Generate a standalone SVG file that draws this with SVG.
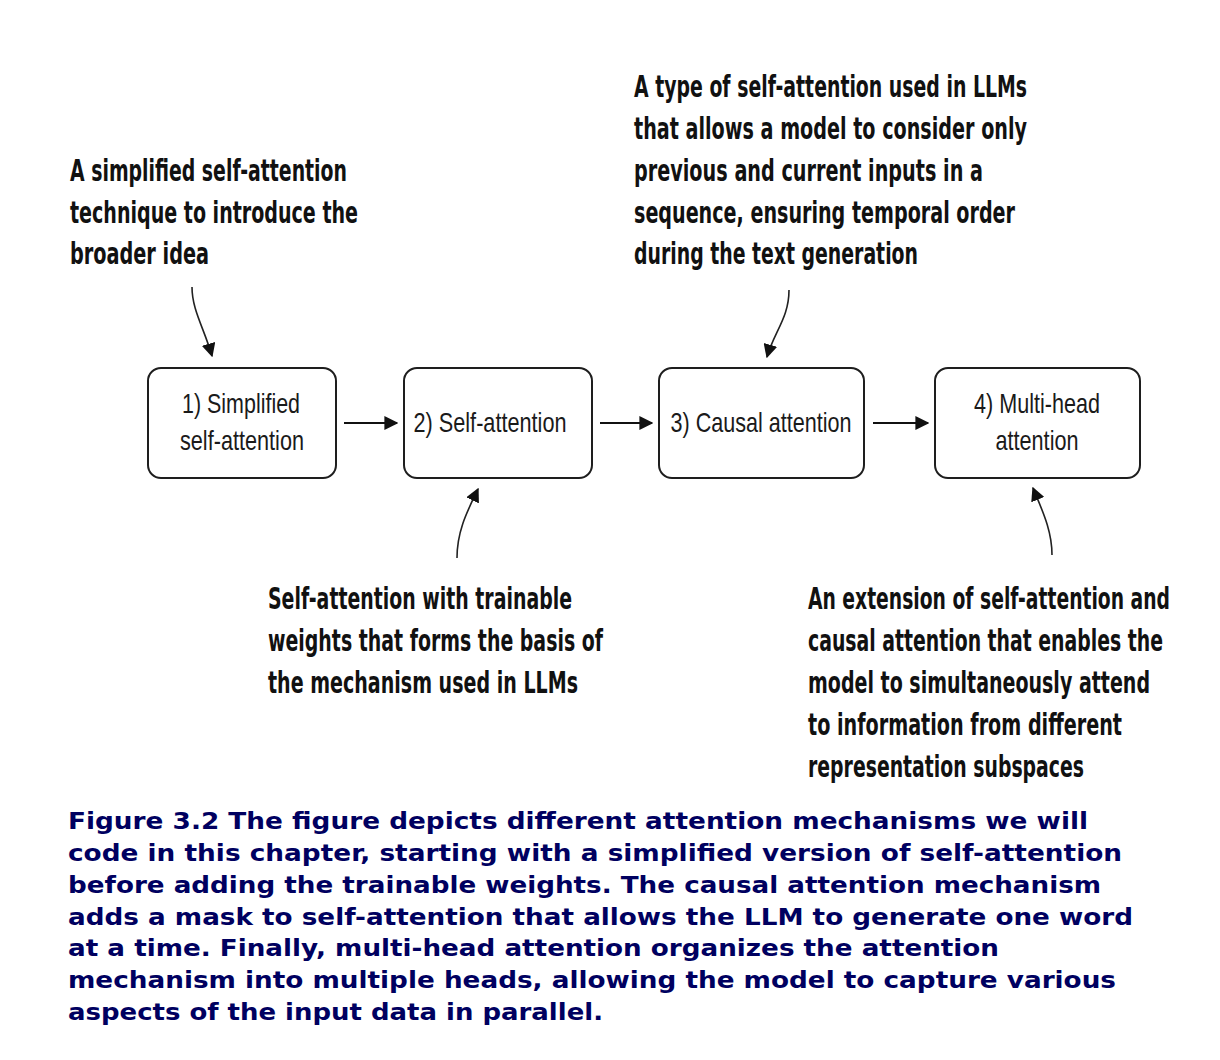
<svg xmlns="http://www.w3.org/2000/svg" width="1220" height="1060" viewBox="0 0 1220 1060">
<style>
.bg{fill:#ffffff}
.box{fill:#ffffff;stroke:#1e1e1e;stroke-width:2}
.bt{font-family:"Liberation Sans",Arial,sans-serif;font-size:28px;fill:#1a1a1a}
.an{font-family:"DejaVu Sans Condensed","DejaVu Sans",sans-serif;font-stretch:condensed;font-weight:bold;font-size:31px;fill:#111111}
.ae{text-anchor:end}
.cap{font-family:"DejaVu Sans",Verdana,sans-serif;font-weight:bold;font-size:23.5px;fill:#000060}
.conn{fill:none;stroke:#111111;stroke-width:2}
.curve{fill:none;stroke:#222222;stroke-width:1.6}
</style>
<defs>
<marker id="ah" viewBox="0 0 10 10" refX="9" refY="5" markerWidth="14" markerHeight="14" markerUnits="userSpaceOnUse" orient="auto">
<path d="M0,0 L10,5 L0,10 Z" fill="#111111"/>
</marker>
</defs>
<rect class="bg" x="0" y="0" width="1220" height="1060"/>

<g id="node1">
<rect class="box" x="148" y="368" width="188" height="110" rx="13"/>
<text class="bt" x="241" y="413" text-anchor="middle" textLength="118" lengthAdjust="spacingAndGlyphs">1) Simplified</text>
<text class="bt" x="242" y="450" text-anchor="middle" textLength="124" lengthAdjust="spacingAndGlyphs">self-attention</text>
</g>
<g id="node2">
<rect class="box" x="404" y="368" width="188" height="110" rx="13"/>
<text class="bt" x="490" y="432" text-anchor="middle" textLength="153" lengthAdjust="spacingAndGlyphs">2) Self-attention</text>
</g>
<g id="node3">
<rect class="box" x="659" y="368" width="205" height="110" rx="13"/>
<text class="bt" x="761" y="432" text-anchor="middle" textLength="181" lengthAdjust="spacingAndGlyphs">3) Causal attention</text>
</g>
<g id="node4">
<rect class="box" x="935" y="368" width="205" height="110" rx="13"/>
<text class="bt" x="1037" y="413" text-anchor="middle" textLength="126" lengthAdjust="spacingAndGlyphs">4) Multi-head</text>
<text class="bt" x="1037" y="450" text-anchor="middle" textLength="83" lengthAdjust="spacingAndGlyphs">attention</text>
</g>

<g id="note-simplified">
<text class="an" x="70" y="181" textLength="277" lengthAdjust="spacingAndGlyphs">A simplified self-attention</text>
<text class="an" x="70" y="223" textLength="288" lengthAdjust="spacingAndGlyphs">technique to introduce the</text>
<text class="an" x="70" y="264" textLength="139" lengthAdjust="spacingAndGlyphs">broader idea</text>
</g>
<g id="note-causal">
<text class="an" x="634" y="97" textLength="393" lengthAdjust="spacingAndGlyphs">A type of self-attention used in LLMs</text>
<text class="an" x="634" y="139" textLength="393" lengthAdjust="spacingAndGlyphs">that allows a model to consider only</text>
<text class="an" x="634" y="181" textLength="349" lengthAdjust="spacingAndGlyphs">previous and current inputs in a</text>
<text class="an" x="634" y="223" textLength="381" lengthAdjust="spacingAndGlyphs">sequence, ensuring temporal order</text>
<text class="an" x="634" y="264" textLength="284" lengthAdjust="spacingAndGlyphs">during the text generation</text>
</g>
<g id="note-self">
<text class="an" x="268" y="609" textLength="304" lengthAdjust="spacingAndGlyphs">Self-attention with trainable</text>
<text class="an" x="268" y="651" textLength="335" lengthAdjust="spacingAndGlyphs">weights that forms the basis of</text>
<text class="an" x="268" y="693" textLength="310" lengthAdjust="spacingAndGlyphs">the mechanism used in LLMs</text>
</g>
<g id="note-multihead">
<text class="an ae" x="1170" y="609" textLength="362" lengthAdjust="spacingAndGlyphs">An extension of self-attention and</text>
<text class="an ae" x="1163" y="651" textLength="355" lengthAdjust="spacingAndGlyphs">causal attention that enables the</text>
<text class="an ae" x="1150" y="693" textLength="342" lengthAdjust="spacingAndGlyphs">model to simultaneously attend</text>
<text class="an ae" x="1122" y="735" textLength="314" lengthAdjust="spacingAndGlyphs">to information from different</text>
<text class="an ae" x="1084" y="777" textLength="276" lengthAdjust="spacingAndGlyphs">representation subspaces</text>
</g>

<g id="connectors">
<line class="conn" x1="344" y1="423" x2="397" y2="423" marker-end="url(#ah)"/>
<line class="conn" x1="600" y1="423" x2="652" y2="423" marker-end="url(#ah)"/>
<line class="conn" x1="873" y1="423" x2="928" y2="423" marker-end="url(#ah)"/>
<path class="curve" d="M192,287 C192,310 204,328 212,356" marker-end="url(#ah)"/>
<path class="curve" d="M789,290 C789,318 774,332 767,357" marker-end="url(#ah)"/>
<path class="curve" d="M457,558 C457,530 468,510 478,489" marker-end="url(#ah)"/>
<path class="curve" d="M1052,555 C1052,530 1042,510 1033,488" marker-end="url(#ah)"/>
</g>

<g id="caption">
<text class="cap" x="68" y="829" textLength="1020" lengthAdjust="spacingAndGlyphs">Figure 3.2 The figure depicts different attention mechanisms we will</text>
<text class="cap" x="68" y="861" textLength="1054" lengthAdjust="spacingAndGlyphs">code in this chapter, starting with a simplified version of self-attention</text>
<text class="cap" x="68" y="893" textLength="1033" lengthAdjust="spacingAndGlyphs">before adding the trainable weights. The causal attention mechanism</text>
<text class="cap" x="68" y="925" textLength="1065" lengthAdjust="spacingAndGlyphs">adds a mask to self-attention that allows the LLM to generate one word</text>
<text class="cap" x="68" y="956" textLength="931" lengthAdjust="spacingAndGlyphs">at a time. Finally, multi-head attention organizes the attention</text>
<text class="cap" x="68" y="988" textLength="1048" lengthAdjust="spacingAndGlyphs">mechanism into multiple heads, allowing the model to capture various</text>
<text class="cap" x="68" y="1020" textLength="535" lengthAdjust="spacingAndGlyphs">aspects of the input data in parallel.</text>
</g>
</svg>
